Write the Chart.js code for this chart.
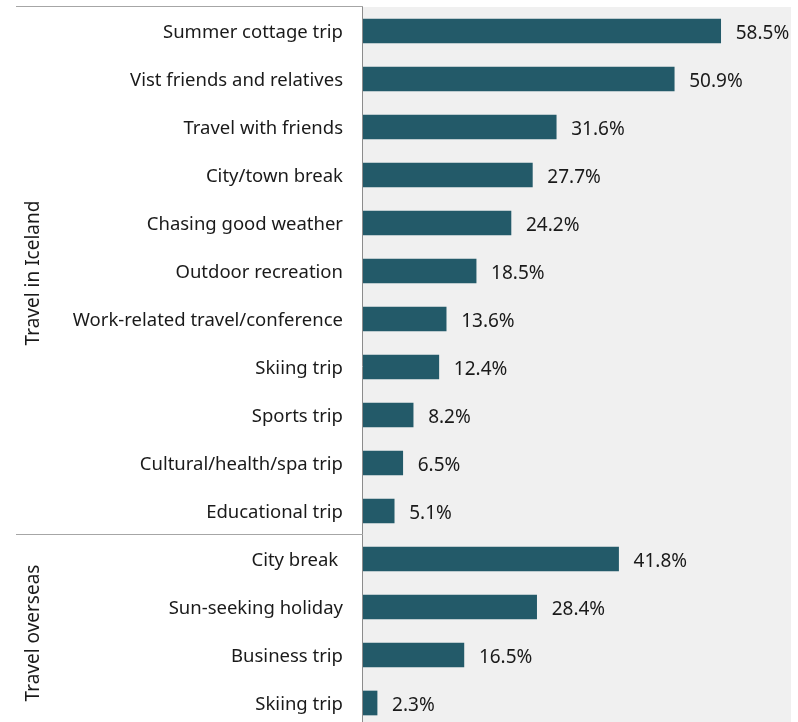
<!DOCTYPE html>
<html>
<head>
<meta charset="utf-8">
<script src="https://cdn.jsdelivr.net/npm/chart.js@4"></script>
<style>
  html, body { margin: 0; padding: 0; background: #fff; overflow: hidden; }
  #wrap { width: 798px; height: 727px; }
</style>
</head>
<body>
<div id="wrap"><canvas id="chart" width="798" height="727"></canvas></div>
<script>
const categories = [
  "Summer cottage trip",
  "Vist friends and relatives",
  "Travel with friends",
  "City/town break",
  "Chasing good weather",
  "Outdoor recreation",
  "Work-related travel/conference",
  "Skiing trip",
  "Sports trip",
  "Cultural/health/spa trip",
  "Educational trip",
  "City break ",
  "Sun-seeking holiday",
  "Business trip",
  "Skiing trip"
];
const values = [58.5, 50.9, 31.6, 27.7, 24.2, 18.5, 13.6, 12.4, 8.2, 6.5, 5.1, 41.8, 28.4, 16.5, 2.3];
const groupNames = ["Travel in Iceland", "Travel overseas"];
const groupSizes = [11, 4];

const FONT = "'Noto Sans', sans-serif";

// grey plot background + group labels, separators, value labels
const decor = {
  id: "decor",
  beforeDraw(chart) {
    const { ctx, chartArea: a } = chart;
    ctx.save();
    ctx.fillStyle = "#f0f0f0";
    ctx.fillRect(a.left, a.top, a.right - a.left, a.bottom - a.top);
    ctx.restore();
  },
  afterDraw(chart) {
    const { ctx, chartArea: a } = chart;
    const ys = chart.scales.y;
    const xs = chart.scales.x;
    const step = ys.getPixelForValue(1) - ys.getPixelForValue(0);
    ctx.save();

    // axis line
    ctx.strokeStyle = "#8c8c8c";
    ctx.lineWidth = 1;
    ctx.beginPath();
    ctx.moveTo(a.left - 0.5, a.top - 1);
    ctx.lineTo(a.left - 0.5, a.bottom);
    ctx.stroke();

    // group separators + rotated group names
    let start = 0;
    groupSizes.forEach((n, gi) => {
      const top = ys.getPixelForValue(start) - step / 2;
      const bottom = ys.getPixelForValue(start + n - 1) + step / 2;
      ctx.strokeStyle = "#a6a6a6";
      ctx.beginPath();
      ctx.moveTo(16, Math.round(top) - 0.5);
      ctx.lineTo(a.left, Math.round(top) - 0.5);
      ctx.stroke();

      ctx.save();
      ctx.translate(34, (top + bottom) / 2 + 2);
      ctx.rotate(-Math.PI / 2);
      ctx.fillStyle = "#1a1a1a";
      ctx.font = "19px " + FONT;
      ctx.textAlign = "center";
      ctx.textBaseline = "middle";
      ctx.fillText(groupNames[gi], 0, 0);
      ctx.restore();
      start += n;
    });

    // value labels
    ctx.fillStyle = "#1a1a1a";
    ctx.font = "19px " + FONT;
    ctx.textAlign = "left";
    ctx.textBaseline = "middle";
    values.forEach((v, i) => {
      ctx.fillText(v.toFixed(1) + "%", xs.getPixelForValue(v) + 15, ys.getPixelForValue(i) + 3);
    });
    ctx.restore();
  }
};

new Chart(document.getElementById("chart"), {
  type: "bar",
  data: {
    labels: categories,
    datasets: [{
      data: values,
      backgroundColor: "#235a69",
      borderWidth: 0,
      barThickness: 24
    }]
  },
  options: {
    indexAxis: "y",
    responsive: false,
    animation: false,
    layout: { padding: { top: 7, right: 7, bottom: 0, left: 0 } },
    plugins: { legend: { display: false }, tooltip: { enabled: false } },
    scales: {
      x: { display: false, min: 0, max: 70 },
      y: {
        afterFit(scale) {
          scale.width = 363;
          scale.paddingTop = 0;
          scale.paddingBottom = 0;
        },
        grid: { display: false, drawTicks: false },
        border: { display: false },
        ticks: {
          padding: 20,
          labelOffset: 2,
          color: "#1a1a1a",
          font: { family: FONT, size: 18.5 }
        }
      }
    }
  },
  plugins: [decor]
});
</script>
</body>
</html>
